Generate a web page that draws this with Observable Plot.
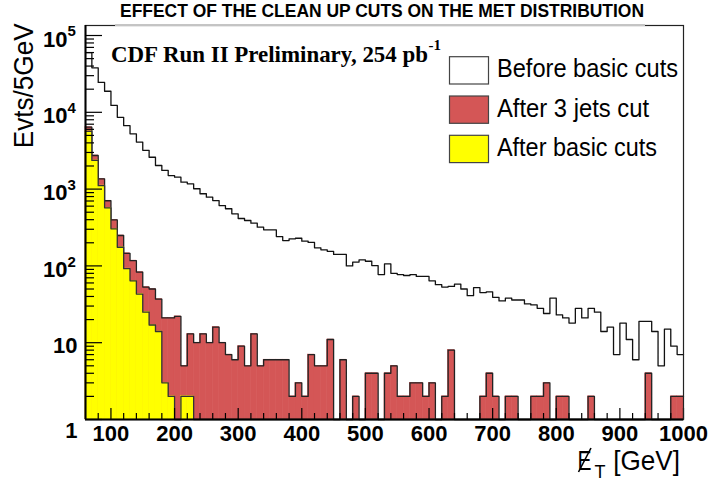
<!DOCTYPE html>
<html><head><meta charset="utf-8">
<script src="https://cdn.jsdelivr.net/npm/d3@7"></script>
<script src="https://cdn.jsdelivr.net/npm/@observablehq/plot@0.6"></script>
<style>body{margin:0;background:#fff;} #chart{width:709px;height:482px;}</style>
</head><body><div id="chart"></div>
<script>
// 10 GeV bins from 60 to 1000 GeV (lower edges)
const binLow = d3.range(60, 1000, 10);

const beforeBasicCuts = [
  60000, 38000, 24500, 18800, 12300, 8600, 6700, 5250, 4100, 3200,
  2600, 2030, 1750, 1500, 1430, 1230, 1170, 1010, 870, 785,
  710, 610, 555, 476, 414, 390, 360, 319, 295, 295,
  241, 214, 225, 229, 210, 202, 172, 162, 155, 141,
  141, 100, 112, 120, 115, 101, 77, 106, 80, 77,
  75, 77, 73, 73, 64, 57, 53, 54, 58, 50,
  41, 52, 45, 46, 39, 35, 38, 36, 36, 32,
  31, 28, 24, 38, 23, 21, 18, 28, 21, 28,
  25, 14, 16, 7, 18, 11, 6, 19, 19, 14,
  5, 15, 9, 7
];
const after3JetsCut = [
  6400, 2740, 1360, 705, 398, 249, 146, 117, 83, 53,
  50, 37, 21, 21, 22, 5, 13, 10, 13, 10,
  16, 10, 7, 6, 9, 5, 13, 5, 6, 6,
  6, 6, 2, 3, 2, 7, 5, 5, 11, 0,
  6, 0, 2, 0, 4, 4, 0, 4, 5, 2,
  2, 3, 3, 2, 3, 0, 2, 8, 0, 0,
  0, 0, 2, 4, 2, 0, 2, 2, 0, 0,
  2, 2, 3, 0, 2, 2, 0, 0, 0, 2,
  0, 0, 0, 0, 0, 0, 0, 0, 4, 0,
  0, 0, 2, 2
];
const afterBasicCuts = [
  5630, 2360, 1110, 571, 304, 175, 92, 64, 43, 25,
  17, 14, 3, 2, 0, 2, 2, 0, 0, 0,
  0, 0, 0, 0, 0, 0, 0, 0, 0, 0,
  0, 0, 0, 0, 0, 0, 0, 0, 0, 0,
  0, 0, 0, 0, 0, 0, 0, 0, 0, 0,
  0, 0, 0, 0, 0, 0, 0, 0, 0, 0,
  0, 0, 0, 0, 0, 0, 0, 0, 0, 0,
  0, 0, 0, 0, 0, 0, 0, 0, 0, 0,
  0, 0, 0, 0, 0, 0, 0, 0, 0, 0,
  0, 0, 0, 0
];

const xTicks = [100, 200, 300, 400, 500, 600, 700, 800, 900, 1000];
const xTickLabels = ["100", "200", "300", "400", "500", "600", "700", "800", "900", "1000"];
const xMinorTicks = d3.range(80, 1001, 20).filter(d => d % 100 !== 0);
const yTicks = [1, 10, 100, 1000, 10000, 100000];
const yTickBase = ["1", "10", "10", "10", "10", "10"];
const yTickExp = ["", "", "2", "3", "4", "5"];
const yMinorTicks = [1, 10, 100, 1000, 10000].flatMap(d => [2,3,4,5,6,7,8,9].map(m => d * m));

const seriesNames = ["Before basic cuts", "After 3 jets cut", "After basic cuts"];
const seriesColors = ["#ffffff", "#d45656", "#ffff00"];

const W = 709, H = 482, mL = 85, mR = 26, mT = 25, mB = 63;
const plotW = W - mL - mR, plotH = H - mT - mB;

const bars = vals => binLow.map((x, i) => ({x1: x, x2: x + 10, y: vals[i]})).filter(d => d.y > 1);
const steps = vals => binLow.flatMap((x, i) => {
  const v = Math.max(vals[i], 1);
  return [{x: x, y: v}, {x: x + 10, y: v}];
});

const sans = "'Liberation Sans', Arial, Helvetica, sans-serif";

const chart = Plot.plot({
  width: W, height: H,
  marginLeft: mL, marginRight: mR, marginTop: mT, marginBottom: mB,
  x: {domain: [60, 1000], axis: null},
  y: {type: "log", domain: [1, 1.35e5], axis: null},
  style: {fontFamily: sans, background: "white", overflow: "visible"},
  marks: [
    Plot.line(steps(beforeBasicCuts), {x: "x", y: "y", stroke: "#111", strokeWidth: 1.3}),
    Plot.rect(bars(after3JetsCut), {x1: "x1", x2: "x2", y1: 1, y2: "y", fill: seriesColors[1], stroke: seriesColors[1], strokeWidth: 0.6}),
    Plot.line(steps(after3JetsCut), {x: "x", y: "y", stroke: "#222", strokeWidth: 1.3}),
    Plot.rect(bars(afterBasicCuts), {x1: "x1", x2: "x2", y1: 1, y2: "y", fill: seriesColors[2], stroke: seriesColors[2], strokeWidth: 0.6}),
    Plot.line(steps(afterBasicCuts), {x: "x", y: "y", stroke: "#333", strokeWidth: 1.3}),
    // ticks (drawn inward)
    Plot.ruleX(xTicks, {x: d => d, insetTop: plotH - 11, stroke: "#000", strokeWidth: 1.2}),
    Plot.ruleX(xMinorTicks, {x: d => d, insetTop: plotH - 6, stroke: "#000", strokeWidth: 1.2}),
    Plot.ruleY(yTicks, {y: d => d, insetRight: plotW - 17, stroke: "#000", strokeWidth: 1.2}),
    Plot.ruleY(yMinorTicks, {y: d => d, insetRight: plotW - 9, stroke: "#000", strokeWidth: 1.2}),
    Plot.frame({stroke: "#222", strokeWidth: 1.2}),
    Plot.ruleX([60], {x: d => d, stroke: "#000", strokeWidth: 2}),
    Plot.ruleY([1], {y: d => d, stroke: "#000", strokeWidth: 2}),
    // tick labels
    Plot.text(xTicks, {x: d => d, text: (d, i) => xTickLabels[i], frameAnchor: "bottom", lineAnchor: "top", dy: 6, fontSize: 22, fontWeight: "bold", fill: "#000"}),
    Plot.text(yTicks.slice(0, 1), {y: d => d, text: (d, i) => yTickBase[i], frameAnchor: "left", textAnchor: "end", dx: -8, dy: 11, fontSize: 22, fontWeight: "bold", fill: "#000"}),
    Plot.text(yTicks.slice(1, 2), {y: d => d, text: (d, i) => yTickBase[i + 1], frameAnchor: "left", textAnchor: "end", dx: -8, dy: 3, fontSize: 22, fontWeight: "bold", fill: "#000"}),
    Plot.text(yTicks.slice(2), {y: d => d, text: (d, i) => yTickBase[i + 2], frameAnchor: "left", textAnchor: "end", dx: -18, dy: 4, fontSize: 22, fontWeight: "bold", fill: "#000"}),
    Plot.text(yTicks.slice(2), {y: d => d, text: (d, i) => yTickExp[i + 2], frameAnchor: "left", textAnchor: "start", dx: -18, dy: -4, fontSize: 15, fontWeight: "bold", fill: "#000"})
  ]
});
document.getElementById("chart").append(chart);

const svg = d3.select(chart);
const addText = (x, y, str, opts = {}) => {
  const t = svg.append("text").attr("x", x).attr("y", y)
    .attr("text-anchor", opts.anchor || "start")
    .attr("font-family", opts.family || sans)
    .attr("font-size", opts.size || 20)
    .attr("font-weight", opts.weight || "normal")
    .attr("fill", "#000")
    .text(str);
  if (opts.len) t.attr("textLength", opts.len).attr("lengthAdjust", "spacingAndGlyphs");
  if (opts.transform) t.attr("transform", opts.transform);
  return t;
};

// title pave edge over the frame top
svg.append("line").attr("x1", 115).attr("x2", 645).attr("y1", mT).attr("y2", mT).attr("stroke", "#fff").attr("stroke-width", 2);
svg.append("line").attr("x1", 115).attr("x2", 645).attr("y1", mT).attr("y2", mT).attr("stroke", "#8a8a8a").attr("stroke-width", 1);

// title
addText(382, 17, "EFFECT OF THE CLEAN UP CUTS ON THE MET DISTRIBUTION", {anchor: "middle", weight: "bold", size: 18.5, len: 524});

// CDF label
const serif = "'Liberation Serif', 'Times New Roman', serif";
addText(111, 62, "CDF Run II Preliminary, 254 pb", {family: serif, weight: "bold", size: 22.5, len: 317});
addText(428.5, 50, "-1", {family: serif, weight: "bold", size: 15});

// legend
const legendY = [56.7, 96, 135.3];
const legendBase = [76.5, 116.5, 156.3];
const legendLen = [181, 152, 160];
seriesNames.forEach((name, i) => {
  svg.append("rect").attr("x", 449.5).attr("y", legendY[i]).attr("width", 39).attr("height", 27.3)
    .attr("fill", seriesColors[i]).attr("stroke", "#444").attr("stroke-width", 1.2);
  addText(497, legendBase[i], name, {size: 26, len: legendLen[i]});
});

// y title
addText(0, 0, "Evts/5GeV", {anchor: "end", size: 28, len: 125, transform: "translate(33.3,23.3) rotate(-90)"});

// x title: missing E_T [GeV]
addText(577.5, 470, "E", {size: 28, len: 14});
svg.append("line").attr("x1", 578.5).attr("y1", 472).attr("x2", 591).attr("y2", 448).attr("stroke", "#000").attr("stroke-width", 1.6);
addText(594.5, 478.3, "T", {size: 18});
addText(613.3, 470, "[GeV]", {size: 28, len: 66.7});
</script>
</body></html>
